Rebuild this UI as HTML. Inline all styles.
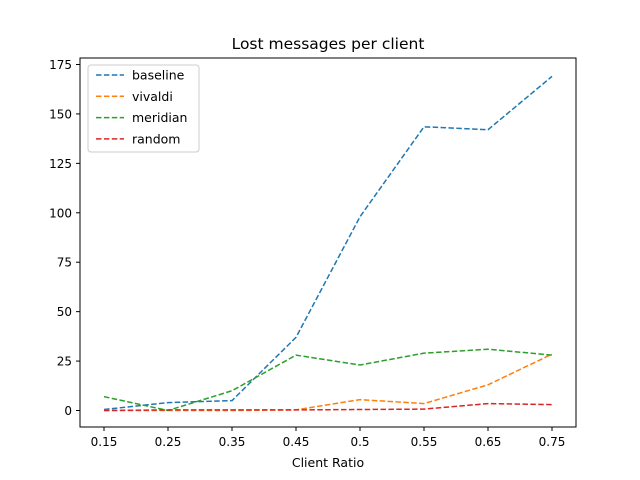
<!DOCTYPE html>
<html><head><meta charset="utf-8"><style>
body{margin:0;background:#fff;}
svg{display:block;font-family:"DejaVu Sans","Liberation Sans",sans-serif;}
</style></head><body>
<svg id="chart" width="640" height="480">
<rect width="640" height="480" fill="#fff"/>
<text x="328" y="49" text-anchor="middle" font-size="15.5">Lost messages per client</text>
<g id="plot"></g>
<rect x="80" y="58" width="496" height="369" fill="none" stroke="#000" stroke-width="1"/>
<text x="328" y="467" text-anchor="middle" font-size="12.5">Client Ratio</text>
<g id="legend"></g>
</svg>
<script>
const categories=["0.15","0.25","0.35","0.45","0.5","0.55","0.65","0.75"];
const yTicks=[0,25,50,75,100,125,150,175];
const seriesNames=["baseline","vivaldi","meridian","random"];
const seriesColors=["#1f77b4","#ff7f0e","#2ca02c","#d62728"];
const baseline=[0.5,4,5,37,98,143.5,142,169];
const vivaldi=[0,0,0,0.3,5.5,3.5,13,28.5];
const meridian=[7,0,10,28,23,29,31,28];
const random=[0,0.3,0.3,0.3,0.5,0.7,3.5,3];
const allSeries=[baseline,vivaldi,meridian,random];
const NS="http://www.w3.org/2000/svg";
const x=i=>104+i*64;
const y=v=>410.5-v*(346/175);
const plot=document.getElementById('plot');
function mk(tag,attrs,parent){const e=document.createElementNS(NS,tag);for(const k in attrs)e.setAttribute(k,attrs[k]);parent.appendChild(e);return e;}
categories.forEach((c,i)=>{
  const t=mk('line',{x1:x(i),x2:x(i),y1:427,y2:431,stroke:'#000'},plot);
  
  
  const l=mk('text',{x:x(i),y:446,'text-anchor':'middle','font-size':'12'},plot);
  l.textContent=c;
  
  
});
yTicks.forEach(v=>{
  const t=mk('line',{x1:76,x2:80,y1:y(v),y2:y(v),stroke:'#000'},plot);
  
  
  const l=mk('text',{x:72,y:y(v)+4.5,'text-anchor':'end','font-size':'12'},plot);
  l.textContent=v;
  
  
});
allSeries.forEach((s,k)=>{
  const p=mk('polyline',{points:s.map((v,i)=>x(i)+','+y(v)).join(' '),fill:'none',stroke:seriesColors[k],'stroke-width':'1.5','stroke-dasharray':'5.5,2.4'},plot);
  
  
});
const lg=document.getElementById('legend');
mk('rect',{x:88,y:65,width:111,height:87,rx:3,fill:'#fff','fill-opacity':'0.8',stroke:'#ccc'},lg);
seriesNames.forEach((n,k)=>{
  const yy=75+k*21.3;
  const l=mk('line',{x1:96,x2:124,y1:yy,y2:yy,stroke:seriesColors[k],'stroke-width':'1.5','stroke-dasharray':'5.5,2.4'},lg);
  
  
  const t=mk('text',{x:132,y:yy+4.5,'font-size':'12.5'},lg);
  t.textContent=n;
  
  
});
</script>
</body></html>
